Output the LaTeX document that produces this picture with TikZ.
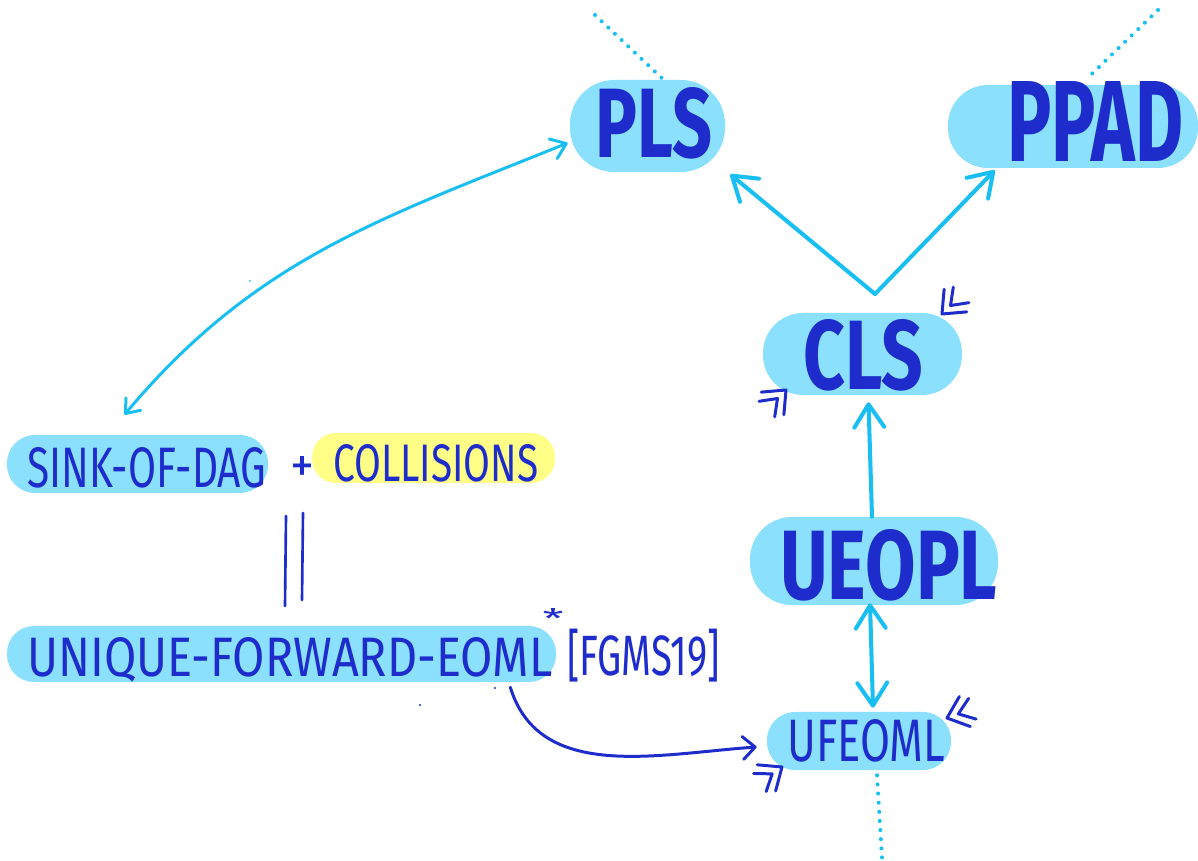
\documentclass[tikz,border=0pt]{standalone}
\usepackage{fontspec}
\setmainfont{Fira Sans}
\usepackage{graphicx}
\usetikzlibrary{arrows.meta,calc}
\newlength\pxu
\setlength\pxu{0.02cm}
\newcommand\fitt[3]{\resizebox{#1\pxu}{#2\pxu}{#3}}
\definecolor{ink}{RGB}{30,44,204}
\definecolor{lblue}{RGB}{139,225,253}
\definecolor{cyanl}{RGB}{25,191,242}
\definecolor{lyel}{RGB}{255,255,135}
\tikzset{
  blob/.style={fill=lblue, draw=none, inner sep=0pt, rectangle},
  yblob/.style={fill=lyel, draw=none, inner sep=0pt, rectangle},
  lab/.style={inner sep=0pt, text=ink, anchor=base west},
  clab/.style={inner sep=0pt, text=ink, anchor=center},
  cyanarr/.style={draw=cyanl, line width=2.3pt, line cap=round, line join=round},
  thinarr/.style={draw=cyanl, line width=1.7pt, line cap=round},
  inkarr/.style={draw=ink, line width=1.7pt, line cap=round},
  bigtip/.style={-{Straight Barb[length=13pt,width=17pt,round]}},
  bigtips/.style={{Straight Barb[length=13pt,width=17pt,round]}-{Straight Barb[length=13pt,width=17pt,round]}},
  smalltips/.style={{Straight Barb[length=7pt,width=11pt,round]}-{Straight Barb[length=8pt,width=12pt,round]}},
  inktip/.style={-{Straight Barb[length=7pt,width=13pt,round]}},
  dotline/.style={draw=cyanl, line width=2.3pt, line cap=round, dash pattern=on 0pt off 5.2pt},
  dchev/.pic={
    \draw[ink, line width=1.7pt, line cap=round, line join=round]
      (-19,16) -- (0,0) -- (-19,-16)
      (-27,11) -- (-12,0) -- (-27,-11);
  }
}
\begin{document}
\begin{tikzpicture}[x=0.02cm, y=-0.02cm]
\useasboundingbox (0,0) rectangle (1198,861);

% blobs
\node[blob, minimum width=155\pxu, minimum height=92\pxu, rounded corners=44\pxu] (pls) at (647.5,126) {};
\node[blob, minimum width=250\pxu, minimum height=83\pxu, rounded corners=40\pxu] (ppad) at (1073,126.5) {};
\node[blob, minimum width=199\pxu, minimum height=82\pxu, rounded corners=40\pxu] (cls) at (862.5,354) {};
\node[blob, minimum width=248\pxu, minimum height=88\pxu, rounded corners=42\pxu] (ueopl) at (874,561) {};
\node[blob, minimum width=184\pxu, minimum height=58\pxu, rounded corners=28\pxu] (ufeoml) at (859,741) {};
\node[blob, minimum width=261\pxu, minimum height=58\pxu, rounded corners=28\pxu] (sink) at (137.5,464) {};
\node[yblob, minimum width=243\pxu, minimum height=50\pxu, rounded corners=24\pxu] (coll) at (433.5,458) {};
\node[blob, minimum width=549\pxu, minimum height=56\pxu, rounded corners=27\pxu] (unique) at (281.5,654) {};

% labels
\node[lab] (plst) at (595,158) {\fitt{117}{70}{\bfseries PLS}};
\node[lab] (ppadt) at (1007,162) {\fitt{176}{80}{\bfseries PPAD}};
\node[lab] (clst) at (803,390) {\fitt{120}{70}{\bfseries CLS}};
\node[lab] (ueoplt) at (780,600) {\fitt{217}{70}{\bfseries UEOPL}};
\node[lab] (ufeomlt) at (787,762) {\fitt{158}{42}{UFEOML}};
\node[lab] (sinkt) at (27,488) {\fitt{239}{40}{SINK-OF-DAG}};
\node[lab] (collt) at (333,482) {\fitt{205}{37}{COLLISIONS}};
\node[clab] (plus) at (303,470) {\fitt{24}{26}{+}};
\node[lab] (uniquet) at (27,677) {\fitt{525}{39}{UNIQUE-FORWARD-EOML}};
\node[clab] (star) at (553,618) {\fitt{21}{20}{*}};
\node[clab] (cite) at (643.5,655.5) {\resizebox*{153\pxu}{53\pxu}{[FGMS19]}};

% equality bars
\draw[ink, line width=1.5pt, line cap=round] (286,516) -- (285,606);
\draw[ink, line width=1.5pt, line cap=round] (303,513) -- (302,600);

% cyan connectors
\coordinate (apex) at (875,294);
\draw[cyanarr, bigtip] (apex) -- ($(pls.south east)+(5,2)$);
\draw[cyanarr, bigtip] (apex) -- ($(ppad.south west)+(47,2)$);
\draw[cyanarr, bigtip] ($(ueopl.north)+(-2,0)$) -- ($(cls.south)+(6,7)$);
\draw[cyanarr, bigtips] ($(ueopl.south)+(-4,-2)$) -- ($(ufeoml.north)+(14,-4)$);
\draw[thinarr, smalltips] ($(sink.north)+(-13,-20)$) to[out=50, in=202] ($(pls.west)+(-2,17)$);

% dark blue connector
\draw[inkarr, inktip] ($(unique.south east)+(-46,5)$) to[out=-73, in=184] ($(ufeoml.west)+(-10,6)$);

% dotted continuations
\coordinate (plsfar) at (595,15);
\coordinate (ppadfar) at (1158,10);
\coordinate (ufeomlfar) at (882,858);
\draw[dotline] (plsfar) -- ($(pls.north)+(16,0)$);
\draw[dotline] (ppadfar) -- ($(ppad.north)+(16,-8)$);
\draw[dotline] ($(ufeoml.south)+(18,5)$) -- (ufeomlfar);

% double chevrons
\pic[rotate=225] at (942,314) {dchev};
\pic[rotate=45] at (786,390) {dchev};
\pic[rotate=200] at (947,718) {dchev};
\pic[rotate=35] at (782,767) {dchev};

% stray specks
\fill[ink] (420,705) circle (1.2);
\fill[ink] (495,688) circle (1.2);
\fill[cyanl] (250,281) circle (1);
\end{tikzpicture}
\end{document}
